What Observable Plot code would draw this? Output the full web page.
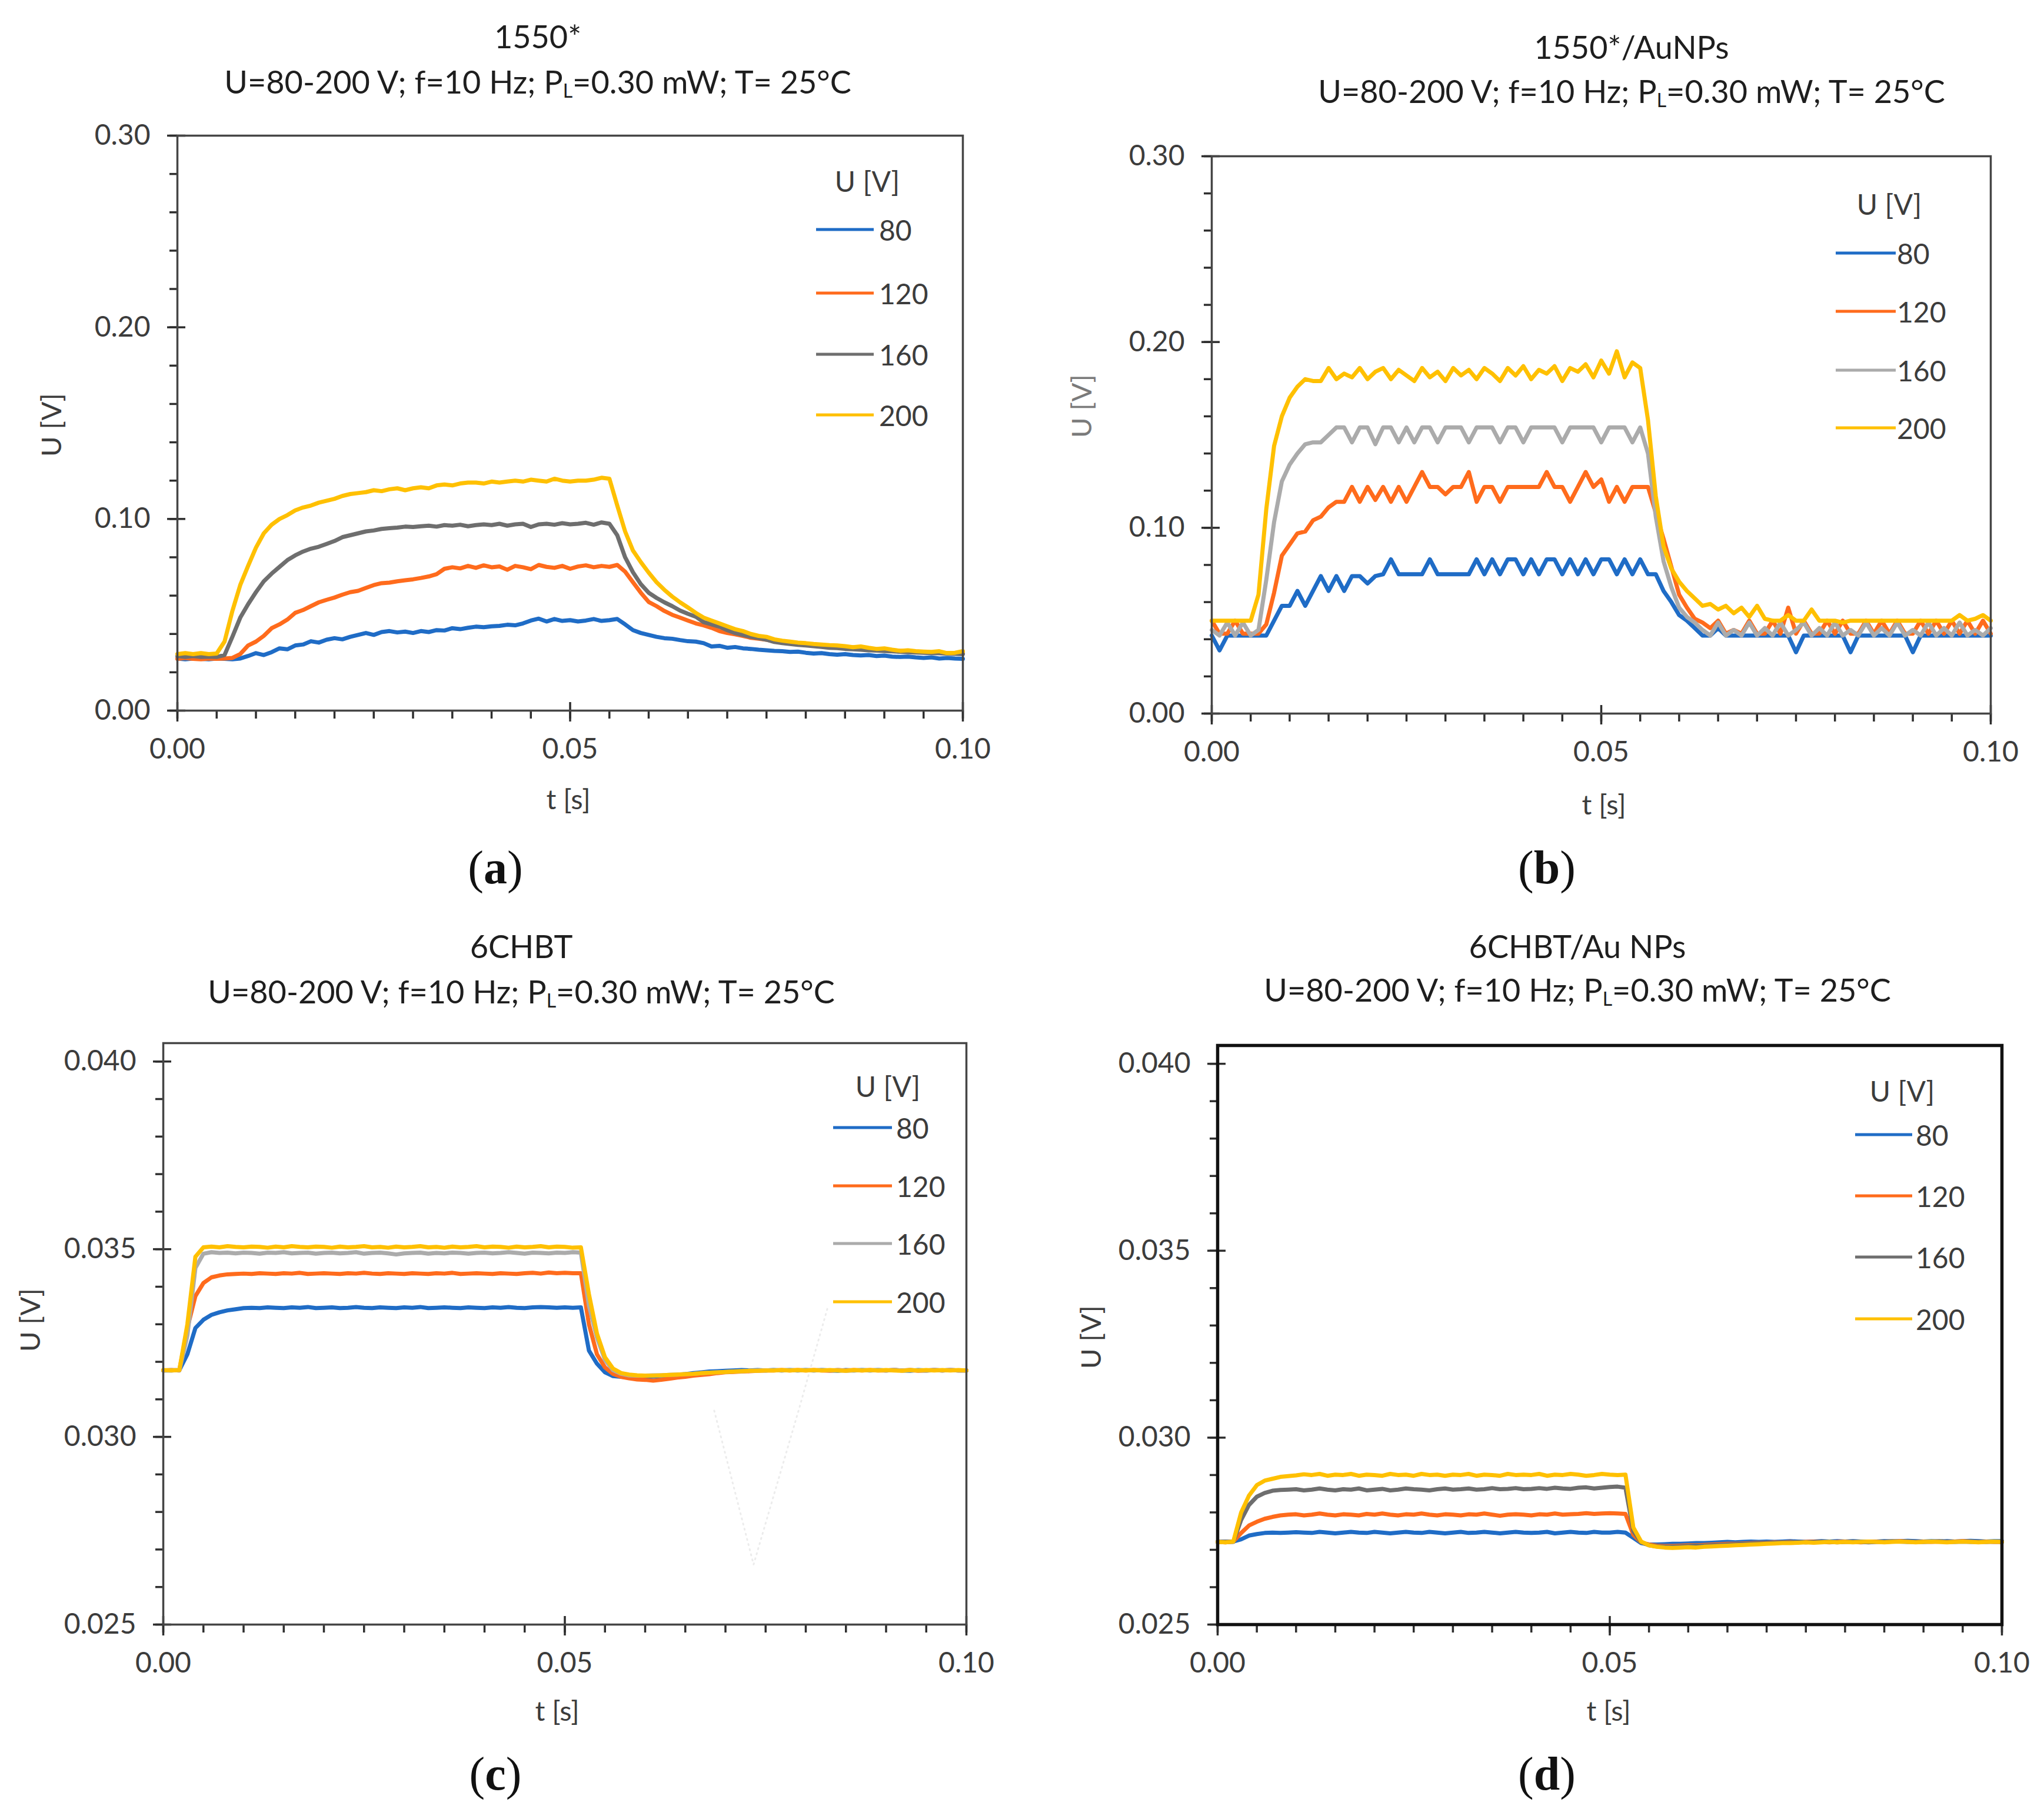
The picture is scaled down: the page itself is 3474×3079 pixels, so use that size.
<!DOCTYPE html>
<html><head><meta charset="utf-8">
<script src="https://cdn.jsdelivr.net/npm/d3@7"></script>
<script src="https://cdn.jsdelivr.net/npm/@observablehq/plot@0.6"></script>
<style>
html,body{margin:0;padding:0;background:#fff;}
#page{position:relative;width:3474px;height:3079px;background:#fff;overflow:hidden;}
#page svg{position:absolute;overflow:visible;max-width:none;}
</style></head><body><div id="page"></div>
<script>
// ---------- DATA ----------
const T = [
0.000,0.001,0.002,0.003,0.004,0.005,0.006,0.007,0.008,0.009,
0.010,0.011,0.012,0.013,0.014,0.015,0.016,0.017,0.018,0.019,
0.020,0.021,0.022,0.023,0.024,0.025,0.026,0.027,0.028,0.029,
0.030,0.031,0.032,0.033,0.034,0.035,0.036,0.037,0.038,0.039,
0.040,0.041,0.042,0.043,0.044,0.045,0.046,0.047,0.048,0.049,
0.050,0.051,0.052,0.053,0.054,0.055,0.056,0.057,0.058,0.059,
0.060,0.061,0.062,0.063,0.064,0.065,0.066,0.067,0.068,0.069,
0.070,0.071,0.072,0.073,0.074,0.075,0.076,0.077,0.078,0.079,
0.080,0.081,0.082,0.083,0.084,0.085,0.086,0.087,0.088,0.089,
0.090,0.091,0.092,0.093,0.094,0.095,0.096,0.097,0.098,0.099,
0.100];
const VOLTS = ["80","120","160","200"];
const X_MAJOR = [0, 0.05, 0.1];
const X_MINOR = [0,0.005,0.01,0.015,0.02,0.025,0.03,0.035,0.04,0.045,0.05,0.055,0.06,0.065,0.07,0.075,0.08,0.085,0.09,0.095,0.1];
const Y_MAJOR_AB = [0, 0.1, 0.2, 0.3];
const Y_MINOR_AB = [0,0.02,0.04,0.06,0.08,0.1,0.12,0.14,0.16,0.18,0.2,0.22,0.24,0.26,0.28,0.3];
const Y_MAJOR_CD = [0.025, 0.030, 0.035, 0.040];
const Y_MINOR_CD = [0.025,0.026,0.027,0.028,0.029,0.030,0.031,0.032,0.033,0.034,0.035,0.036,0.037,0.038,0.039,0.040];

// (a) 1550*
const a80 = [
0.0272,0.0268,0.0272,0.0270,0.0268,0.0272,0.0270,0.0268,0.0272,0.0285,
0.0300,0.0290,0.0305,0.0325,0.0320,0.0340,0.0345,0.0362,0.0355,0.0370,
0.0378,0.0372,0.0385,0.0395,0.0405,0.0395,0.0410,0.0415,0.0408,0.0412,
0.0405,0.0415,0.0410,0.0420,0.0418,0.0430,0.0425,0.0432,0.0438,0.0435,
0.0440,0.0442,0.0448,0.0445,0.0455,0.0470,0.0480,0.0465,0.0478,0.0468,
0.0472,0.0465,0.0470,0.0478,0.0468,0.0472,0.0478,0.0450,0.0420,0.0405,
0.0395,0.0385,0.0378,0.0375,0.0368,0.0362,0.0360,0.0352,0.0335,0.0338,
0.0328,0.0332,0.0325,0.0322,0.0318,0.0315,0.0312,0.0310,0.0306,0.0308,
0.0302,0.0298,0.0300,0.0295,0.0292,0.0295,0.0290,0.0288,0.0290,0.0285,
0.0287,0.0282,0.0280,0.0282,0.0278,0.0275,0.0278,0.0272,0.0275,0.0272,
0.0270];
const a120 = [
0.0270,0.0275,0.0270,0.0268,0.0272,0.0270,0.0272,0.0275,0.0295,0.0340,
0.0360,0.0390,0.0430,0.0450,0.0475,0.0510,0.0525,0.0545,0.0565,0.0578,
0.0590,0.0605,0.0618,0.0625,0.0640,0.0655,0.0665,0.0668,0.0675,0.0680,
0.0685,0.0692,0.0700,0.0712,0.0740,0.0748,0.0742,0.0755,0.0745,0.0758,
0.0748,0.0752,0.0735,0.0755,0.0748,0.0738,0.0760,0.0750,0.0745,0.0755,
0.0740,0.0752,0.0758,0.0748,0.0755,0.0750,0.0760,0.0725,0.0670,0.0615,
0.0567,0.0545,0.0520,0.0500,0.0485,0.0470,0.0455,0.0445,0.0432,0.0415,
0.0405,0.0398,0.0390,0.0380,0.0375,0.0370,0.0362,0.0358,0.0355,0.0350,
0.0348,0.0345,0.0342,0.0340,0.0336,0.0333,0.0330,0.0327,0.0322,0.0320,
0.0316,0.0314,0.0312,0.0310,0.0308,0.0306,0.0303,0.0302,0.0300,0.0300,
0.0298];
const a160 = [
0.0285,0.0280,0.0285,0.0280,0.0282,0.0280,0.0290,0.0385,0.0485,0.0555,
0.0618,0.0675,0.0715,0.0750,0.0785,0.0810,0.0830,0.0845,0.0855,0.0870,
0.0885,0.0905,0.0915,0.0925,0.0935,0.0940,0.0948,0.0952,0.0955,0.0960,
0.0958,0.0962,0.0965,0.0960,0.0968,0.0965,0.0970,0.0962,0.0968,0.0972,
0.0968,0.0975,0.0965,0.0972,0.0975,0.0958,0.0972,0.0975,0.0970,0.0978,
0.0972,0.0975,0.0980,0.0970,0.0982,0.0975,0.0915,0.0800,0.0722,0.0660,
0.0615,0.0588,0.0565,0.0545,0.0522,0.0505,0.0490,0.0462,0.0450,0.0438,
0.0420,0.0405,0.0395,0.0385,0.0378,0.0370,0.0358,0.0352,0.0348,0.0343,
0.0340,0.0336,0.0332,0.0328,0.0326,0.0322,0.0320,0.0318,0.0315,0.0313,
0.0311,0.0309,0.0307,0.0305,0.0303,0.0302,0.0300,0.0299,0.0297,0.0296,
0.0295];
const a200 = [
0.0295,0.0300,0.0295,0.0300,0.0295,0.0298,0.0360,0.0520,0.0655,0.0755,
0.0850,0.0925,0.0970,0.1000,0.1020,0.1045,0.1060,0.1070,0.1085,0.1095,
0.1105,0.1120,0.1130,0.1135,0.1140,0.1150,0.1145,0.1155,0.1160,0.1150,
0.1160,0.1165,0.1160,0.1175,0.1180,0.1175,0.1185,0.1190,0.1190,0.1185,
0.1195,0.1190,0.1195,0.1200,0.1195,0.1205,0.1200,0.1195,0.1210,0.1200,
0.1195,0.1200,0.1200,0.1205,0.1215,0.1210,0.1070,0.0935,0.0835,0.0775,
0.0720,0.0670,0.0630,0.0595,0.0565,0.0538,0.0510,0.0485,0.0470,0.0455,
0.0440,0.0425,0.0415,0.0400,0.0390,0.0385,0.0372,0.0365,0.0360,0.0355,
0.0352,0.0348,0.0345,0.0342,0.0340,0.0336,0.0331,0.0335,0.0328,0.0322,
0.0325,0.0318,0.0312,0.0315,0.0310,0.0308,0.0306,0.0310,0.0300,0.0302,
0.0310];

// (b) 1550*/AuNPs
const b80 = [
0.042,0.034,0.042,0.042,0.042,0.042,0.042,0.042,0.050,0.058,
0.058,0.066,0.058,0.066,0.074,0.066,0.074,0.066,0.074,0.074,
0.070,0.074,0.075,0.083,0.075,0.075,0.075,0.075,0.083,0.075,
0.075,0.075,0.075,0.075,0.083,0.075,0.083,0.075,0.083,0.083,
0.075,0.083,0.075,0.083,0.083,0.075,0.083,0.075,0.083,0.075,
0.083,0.083,0.075,0.083,0.075,0.083,0.075,0.075,0.066,0.060,
0.053,0.050,0.046,0.042,0.042,0.046,0.042,0.042,0.042,0.042,
0.042,0.042,0.042,0.042,0.042,0.033,0.042,0.042,0.042,0.042,
0.042,0.042,0.033,0.042,0.042,0.042,0.042,0.042,0.042,0.042,
0.033,0.042,0.042,0.042,0.042,0.042,0.042,0.042,0.042,0.042,
0.042];
const b120 = [
0.050,0.043,0.043,0.050,0.043,0.043,0.043,0.048,0.065,0.085,
0.091,0.097,0.098,0.104,0.106,0.111,0.114,0.114,0.122,0.114,
0.122,0.115,0.122,0.114,0.122,0.114,0.122,0.130,0.122,0.122,
0.118,0.122,0.122,0.130,0.114,0.122,0.122,0.114,0.122,0.122,
0.122,0.122,0.122,0.130,0.122,0.122,0.114,0.122,0.130,0.122,
0.126,0.114,0.122,0.114,0.122,0.122,0.122,0.108,0.094,0.079,
0.064,0.057,0.051,0.049,0.046,0.050,0.043,0.045,0.043,0.050,
0.043,0.043,0.050,0.043,0.057,0.043,0.050,0.043,0.043,0.050,
0.043,0.050,0.043,0.043,0.050,0.043,0.050,0.043,0.050,0.043,
0.043,0.050,0.043,0.050,0.043,0.050,0.043,0.050,0.043,0.050,
0.043];
const b160 = [
0.045,0.042,0.049,0.042,0.049,0.042,0.045,0.072,0.103,0.125,
0.134,0.140,0.145,0.146,0.146,0.150,0.154,0.154,0.146,0.154,
0.154,0.145,0.154,0.154,0.146,0.154,0.146,0.154,0.154,0.146,
0.154,0.154,0.154,0.146,0.154,0.154,0.154,0.146,0.154,0.154,
0.146,0.154,0.154,0.154,0.154,0.146,0.154,0.154,0.154,0.154,
0.146,0.154,0.154,0.154,0.146,0.154,0.140,0.106,0.082,0.068,
0.057,0.052,0.049,0.045,0.042,0.049,0.042,0.045,0.042,0.049,
0.042,0.046,0.042,0.049,0.042,0.045,0.049,0.042,0.046,0.042,
0.049,0.042,0.045,0.042,0.049,0.042,0.046,0.042,0.049,0.042,
0.045,0.042,0.049,0.042,0.046,0.042,0.049,0.042,0.045,0.042,
0.046];
const b200 = [
0.050,0.050,0.050,0.050,0.050,0.050,0.064,0.110,0.144,0.160,
0.170,0.176,0.180,0.179,0.179,0.186,0.180,0.183,0.181,0.186,
0.180,0.184,0.186,0.180,0.185,0.182,0.179,0.186,0.181,0.184,
0.179,0.186,0.182,0.185,0.180,0.186,0.183,0.179,0.186,0.182,
0.187,0.180,0.185,0.183,0.187,0.179,0.186,0.184,0.188,0.181,
0.190,0.183,0.195,0.181,0.189,0.186,0.158,0.117,0.090,0.078,
0.071,0.066,0.062,0.058,0.059,0.056,0.058,0.054,0.057,0.052,
0.058,0.051,0.050,0.050,0.053,0.050,0.050,0.056,0.050,0.050,
0.050,0.049,0.050,0.050,0.050,0.050,0.050,0.050,0.050,0.050,
0.050,0.050,0.050,0.050,0.050,0.050,0.053,0.050,0.051,0.053,
0.050];

// (c) 6CHBT
const c80 = [
0.03177,0.03177,0.03178,0.03220,0.03290,0.03312,0.03325,0.03332,0.03337,0.03340,
0.03343,0.03344,0.03343,0.03345,0.03344,0.03343,0.03345,0.03344,0.03346,0.03343,
0.03344,0.03345,0.03343,0.03344,0.03346,0.03344,0.03343,0.03345,0.03344,0.03343,
0.03345,0.03344,0.03346,0.03343,0.03344,0.03345,0.03344,0.03343,0.03345,0.03344,
0.03343,0.03345,0.03344,0.03346,0.03344,0.03343,0.03345,0.03346,0.03345,0.03344,
0.03345,0.03344,0.03345,0.03230,0.03195,0.03172,0.03162,0.03160,0.03159,0.03160,
0.03160,0.03161,0.03162,0.03163,0.03165,0.03167,0.03170,0.03172,0.03174,0.03175,
0.03176,0.03177,0.03178,0.03177,0.03178,0.03177,0.03178,0.03177,0.03178,0.03177,
0.03178,0.03177,0.03178,0.03177,0.03176,0.03178,0.03177,0.03178,0.03177,0.03178,
0.03177,0.03178,0.03177,0.03176,0.03178,0.03177,0.03178,0.03177,0.03178,0.03177,
0.03177];
const c120 = [
0.03177,0.03178,0.03177,0.03290,0.03375,0.03410,0.03425,0.03430,0.03433,0.03434,
0.03435,0.03434,0.03436,0.03435,0.03434,0.03436,0.03435,0.03437,0.03434,0.03435,
0.03436,0.03435,0.03434,0.03436,0.03435,0.03437,0.03435,0.03434,0.03436,0.03435,
0.03434,0.03436,0.03435,0.03434,0.03436,0.03435,0.03437,0.03434,0.03435,0.03436,
0.03435,0.03434,0.03436,0.03435,0.03434,0.03436,0.03437,0.03435,0.03438,0.03436,
0.03437,0.03436,0.03436,0.03300,0.03220,0.03185,0.03168,0.03160,0.03156,0.03153,
0.03152,0.03150,0.03152,0.03155,0.03158,0.03160,0.03163,0.03165,0.03167,0.03170,
0.03172,0.03173,0.03174,0.03175,0.03176,0.03177,0.03177,0.03178,0.03177,0.03178,
0.03177,0.03178,0.03177,0.03176,0.03178,0.03177,0.03178,0.03177,0.03178,0.03177,
0.03177,0.03178,0.03177,0.03178,0.03176,0.03177,0.03178,0.03177,0.03178,0.03177,
0.03177];
const c160 = [
0.03177,0.03178,0.03177,0.03270,0.03450,0.03488,0.03492,0.03490,0.03491,0.03489,
0.03491,0.03490,0.03488,0.03491,0.03490,0.03492,0.03489,0.03490,0.03491,0.03488,
0.03490,0.03491,0.03489,0.03490,0.03492,0.03488,0.03490,0.03491,0.03489,0.03486,
0.03489,0.03490,0.03491,0.03488,0.03490,0.03489,0.03491,0.03490,0.03488,0.03490,
0.03491,0.03489,0.03490,0.03492,0.03490,0.03488,0.03491,0.03490,0.03489,0.03491,
0.03490,0.03492,0.03491,0.03350,0.03265,0.03205,0.03178,0.03168,0.03164,0.03163,
0.03163,0.03164,0.03164,0.03165,0.03166,0.03167,0.03168,0.03170,0.03171,0.03172,
0.03173,0.03174,0.03175,0.03176,0.03177,0.03177,0.03178,0.03177,0.03178,0.03177,
0.03178,0.03177,0.03178,0.03177,0.03178,0.03176,0.03177,0.03178,0.03177,0.03178,
0.03177,0.03178,0.03177,0.03178,0.03177,0.03176,0.03178,0.03177,0.03178,0.03177,
0.03177];
const c200 = [
0.03178,0.03177,0.03178,0.03300,0.03480,0.03505,0.03507,0.03505,0.03508,0.03506,
0.03505,0.03507,0.03506,0.03504,0.03507,0.03505,0.03508,0.03506,0.03505,0.03507,
0.03506,0.03504,0.03507,0.03505,0.03506,0.03508,0.03505,0.03506,0.03504,0.03507,
0.03505,0.03506,0.03508,0.03505,0.03506,0.03504,0.03507,0.03505,0.03506,0.03508,
0.03505,0.03507,0.03506,0.03504,0.03507,0.03505,0.03506,0.03508,0.03505,0.03507,
0.03506,0.03504,0.03505,0.03380,0.03275,0.03212,0.03182,0.03170,0.03166,0.03164,
0.03163,0.03163,0.03164,0.03165,0.03166,0.03167,0.03168,0.03170,0.03171,0.03172,
0.03173,0.03174,0.03175,0.03176,0.03176,0.03177,0.03177,0.03178,0.03177,0.03178,
0.03177,0.03178,0.03177,0.03178,0.03177,0.03176,0.03178,0.03177,0.03178,0.03177,
0.03178,0.03177,0.03176,0.03178,0.03177,0.03178,0.03177,0.03178,0.03177,0.03178,
0.03177];
// faint dotted artefact visible in (c)
const cGhostT = [0.0686, 0.0735, 0.0791, 0.0828];
const cGhostV = [0.0307, 0.0266, 0.0307, 0.0335];

// (d) 6CHBT/Au NPs
const d80 = [
0.02721,0.02721,0.02722,0.02728,0.02738,0.02742,0.02745,0.02746,0.02745,0.02746,
0.02747,0.02746,0.02745,0.02748,0.02746,0.02744,0.02746,0.02748,0.02746,0.02745,
0.02748,0.02746,0.02744,0.02746,0.02748,0.02746,0.02745,0.02748,0.02746,0.02744,
0.02746,0.02748,0.02745,0.02746,0.02748,0.02746,0.02744,0.02746,0.02748,0.02746,
0.02745,0.02746,0.02748,0.02744,0.02746,0.02748,0.02746,0.02745,0.02748,0.02746,
0.02746,0.02748,0.02746,0.02732,0.02718,0.02714,0.02714,0.02715,0.02716,0.02716,
0.02717,0.02718,0.02718,0.02719,0.02720,0.02721,0.02720,0.02721,0.02722,0.02721,
0.02722,0.02721,0.02722,0.02723,0.02722,0.02721,0.02722,0.02723,0.02722,0.02723,
0.02722,0.02723,0.02722,0.02721,0.02722,0.02723,0.02722,0.02723,0.02724,0.02723,
0.02722,0.02723,0.02722,0.02723,0.02722,0.02723,0.02724,0.02723,0.02722,0.02723,
0.02723];
const d120 = [
0.02721,0.02720,0.02722,0.02745,0.02765,0.02775,0.02783,0.02788,0.02792,0.02794,
0.02795,0.02792,0.02794,0.02797,0.02794,0.02792,0.02795,0.02794,0.02792,0.02796,
0.02794,0.02797,0.02794,0.02792,0.02795,0.02794,0.02797,0.02794,0.02792,0.02795,
0.02794,0.02792,0.02795,0.02794,0.02797,0.02794,0.02791,0.02794,0.02795,0.02794,
0.02792,0.02795,0.02794,0.02797,0.02794,0.02795,0.02796,0.02798,0.02796,0.02797,
0.02798,0.02797,0.02796,0.02740,0.02720,0.02714,0.02711,0.02710,0.02710,0.02711,
0.02712,0.02712,0.02713,0.02714,0.02715,0.02716,0.02716,0.02717,0.02718,0.02719,
0.02719,0.02720,0.02720,0.02721,0.02720,0.02721,0.02722,0.02721,0.02720,0.02721,
0.02722,0.02721,0.02720,0.02721,0.02722,0.02721,0.02722,0.02723,0.02722,0.02721,
0.02722,0.02721,0.02722,0.02721,0.02722,0.02723,0.02722,0.02721,0.02722,0.02721,
0.02721];
const d160 = [
0.02721,0.02722,0.02721,0.02780,0.02820,0.02842,0.02852,0.02858,0.02860,0.02861,
0.02862,0.02859,0.02861,0.02864,0.02861,0.02859,0.02862,0.02861,0.02864,0.02859,
0.02861,0.02863,0.02859,0.02861,0.02864,0.02862,0.02861,0.02859,0.02862,0.02864,
0.02861,0.02862,0.02864,0.02861,0.02862,0.02865,0.02862,0.02863,0.02865,0.02862,
0.02863,0.02865,0.02863,0.02866,0.02864,0.02863,0.02866,0.02867,0.02864,0.02866,
0.02868,0.02869,0.02866,0.02750,0.02720,0.02712,0.02709,0.02708,0.02708,0.02709,
0.02710,0.02711,0.02711,0.02712,0.02713,0.02714,0.02715,0.02716,0.02717,0.02718,
0.02718,0.02719,0.02720,0.02720,0.02721,0.02720,0.02721,0.02722,0.02721,0.02720,
0.02721,0.02722,0.02721,0.02720,0.02721,0.02722,0.02723,0.02722,0.02721,0.02722,
0.02721,0.02722,0.02723,0.02722,0.02721,0.02722,0.02721,0.02722,0.02721,0.02722,
0.02721];
const d200 = [
0.02721,0.02720,0.02722,0.02800,0.02845,0.02873,0.02885,0.02890,0.02895,0.02897,
0.02899,0.02902,0.02900,0.02903,0.02898,0.02901,0.02900,0.02903,0.02898,0.02901,
0.02900,0.02898,0.02903,0.02900,0.02901,0.02898,0.02903,0.02900,0.02901,0.02898,
0.02901,0.02900,0.02903,0.02898,0.02901,0.02900,0.02898,0.02903,0.02900,0.02901,
0.02900,0.02903,0.02898,0.02901,0.02900,0.02903,0.02901,0.02898,0.02900,0.02903,
0.02901,0.02900,0.02901,0.02760,0.02722,0.02712,0.02708,0.02706,0.02705,0.02706,
0.02707,0.02706,0.02708,0.02709,0.02710,0.02711,0.02712,0.02713,0.02714,0.02715,
0.02716,0.02717,0.02718,0.02718,0.02719,0.02720,0.02719,0.02720,0.02721,0.02720,
0.02721,0.02720,0.02721,0.02722,0.02721,0.02720,0.02721,0.02722,0.02721,0.02720,
0.02721,0.02722,0.02721,0.02720,0.02721,0.02722,0.02721,0.02720,0.02721,0.02722,
0.02721];

// ---------- STYLE / LAYOUT ----------
const BLUE = "#1f6cc6", ORANGE = "#ff6b1c", GRAY_D = "#6e6e6e", GRAY_L = "#ababab", YELLOW = "#ffc000";
const TICK = "#2e2e2e", TXT = "#3c3c3c";
const FONT = "Lato, 'Open Sans', sans-serif";
const SUB = "U=80-200 V; f=10 Hz; P|L|=0.30 mW; T= 25°C";

const panels = [
  {key:"a", left:301, top:230, w:1335, h:977, yDomain:[0,0.3], yMajor:Y_MAJOR_AB, yMinor:Y_MINOR_AB, fmt:".2f",
   series:[a80,a120,a160,a200], colors:[BLUE,ORANGE,GRAY_D,YELLOW], frame:"#454545", frameW:3.5,
   title:"1550*", titleXY:[914,61], subXY:[914,138], uXY:[86,722], uColor:TXT, tXY:[966,1357], capXY:[842,1474],
   leg:{title:[1474,307], x1:1387, x2:1485, lx:1494, ys:[390,498,602,705]}},
  {key:"b", left:2059, top:265, w:1324, h:947, yDomain:[0,0.3], yMajor:Y_MAJOR_AB, yMinor:Y_MINOR_AB, fmt:".2f",
   series:[b80,b120,b160,b200], colors:[BLUE,ORANGE,GRAY_L,YELLOW], frame:"#454545", frameW:3.5,
   title:"1550*/AuNPs", titleXY:[2773,79], subXY:[2773,154], uXY:[1837,690], uColor:"#7a7a7a", tXY:[2726,1366], capXY:[2629,1474],
   leg:{title:[3211,346], x1:3120, x2:3222, lx:3224, ys:[430,529,629,727]}},
  {key:"c", left:277, top:1772, w:1365, h:988, yDomain:[0.025,0.04049], yMajor:Y_MAJOR_CD, yMinor:Y_MINOR_CD, fmt:".3f",
   series:[c80,c120,c160,c200], colors:[BLUE,ORANGE,GRAY_L,YELLOW], frame:"#454545", frameW:3.5,
   title:"6CHBT", titleXY:[886,1607], subXY:[886,1684], uXY:[50,2243], uColor:TXT, tXY:[947,2906], capXY:[842,3014],
   leg:{title:[1509,1845], x1:1416, x2:1516, lx:1523, ys:[1916,2015,2113,2212]}, ghost:true},
  {key:"d", left:2069, top:1776, w:1333, h:984, yDomain:[0.025,0.04049], yMajor:Y_MAJOR_CD, yMinor:Y_MINOR_CD, fmt:".3f",
   series:[d80,d120,d160,d200], colors:[BLUE,ORANGE,GRAY_D,YELLOW], frame:"#111111", frameW:5.5,
   title:"6CHBT/Au NPs", titleXY:[2681,1607], subXY:[2681,1681], uXY:[1853,2272], uColor:TXT, tXY:[2734,2906], capXY:[2629,3014],
   leg:{title:[3233,1853], x1:3153, x2:3250, lx:3256, ys:[1928,2032,2136,2241]}}
];

const page = document.getElementById("page");
const ML = 240, MR = 30, MT = 30, MB = 130;

for (const p of panels) {
  const marks = [
    Plot.axisX({ticks: X_MINOR, tickSize: 14, text: null, label: null, stroke: TICK, strokeWidth: 3.5}),
    Plot.axisX({ticks: X_MAJOR, tickSize: 33, dy: -14, text: null, label: null, stroke: TICK, strokeWidth: 3.5}),
    Plot.axisX({ticks: X_MAJOR, tickSize: 0, tickPadding: 47, tickFormat: d3.format(".2f"), label: null, fill: TXT, fontSize: 48}),
    Plot.axisY({ticks: p.yMinor, tickSize: 13, text: null, label: null, stroke: TICK, strokeWidth: 3.5}),
    Plot.axisY({ticks: p.yMajor, tickSize: 31, dx: 14, text: null, label: null, stroke: TICK, strokeWidth: 3.5}),
    Plot.axisY({ticks: p.yMajor, tickSize: 0, tickPadding: 46, tickFormat: d3.format(p.fmt), label: null, fill: TXT, fontSize: 48})
  ];
  if (p.ghost) marks.push(Plot.line(cGhostT, {x: cGhostT, y: cGhostV, stroke: "#ececec", strokeWidth: 3, strokeDasharray: "2,7"}));
  p.series.forEach((vals, i) => {
    marks.push(Plot.line(T, {x: T, y: vals, stroke: p.colors[i], strokeWidth: 7, strokeLinejoin: "round", strokeLinecap: "round"}));
  });
  marks.push(Plot.frame({stroke: p.frame, strokeWidth: p.frameW}));
  const svg = Plot.plot({
    width: ML + p.w + MR, height: MT + p.h + MB,
    marginLeft: ML, marginRight: MR, marginTop: MT, marginBottom: MB,
    x: {domain: [0, 0.1]}, y: {domain: p.yDomain},
    style: {fontFamily: FONT, fontSize: "48px", color: TXT, background: "transparent", overflow: "visible"},
    marks
  });
  svg.style.left = (p.left - ML) + "px";
  svg.style.top = (p.top - MT) + "px";
  page.appendChild(svg);
}

// overlay for titles, legends, axis titles, captions
const ov = d3.select(page).append("svg")
  .attr("width", 3474).attr("height", 3079)
  .style("left", "0px").style("top", "0px")
  .attr("font-family", FONT);

function subtitle(g, x, y, str) {
  const parts = str.split("|");
  const t = g.append("text").attr("x", x).attr("y", y).attr("text-anchor", "middle")
    .attr("dominant-baseline", "central").attr("font-size", 54).attr("fill", "#1e1e1e");
  t.append("tspan").text(parts[0]);
  t.append("tspan").attr("font-size", 32).attr("dy", 15).text(parts[1]);
  t.append("tspan").attr("dy", -15).text(parts[2]);
}

for (const p of panels) {
  ov.append("text").attr("x", p.titleXY[0]).attr("y", p.titleXY[1]).attr("text-anchor", "middle")
    .attr("dominant-baseline", "central").attr("font-size", 54).attr("fill", "#1e1e1e").text(p.title);
  subtitle(ov, p.subXY[0], p.subXY[1], SUB);
  ov.append("text").attr("transform", `translate(${p.uXY[0]},${p.uXY[1]}) rotate(-90)`).attr("text-anchor", "middle")
    .attr("dominant-baseline", "central").attr("font-size", 47).attr("fill", p.uColor).text("U [V]");
  ov.append("text").attr("x", p.tXY[0]).attr("y", p.tXY[1]).attr("text-anchor", "middle")
    .attr("dominant-baseline", "central").attr("font-size", 47).attr("fill", TXT).text("t [s]");
  const cap = ov.append("text").attr("x", p.capXY[0]).attr("y", p.capXY[1]).attr("text-anchor", "middle")
    .attr("dominant-baseline", "central").attr("font-size", 80).attr("fill", "#111")
    .attr("font-family", "'Liberation Serif', 'DejaVu Serif', serif");
  cap.append("tspan").text("(");
  cap.append("tspan").attr("font-weight", "bold").text(p.key);
  cap.append("tspan").text(")");
  // legend
  const L = p.leg;
  ov.append("text").attr("x", L.title[0]).attr("y", L.title[1]).attr("text-anchor", "middle")
    .attr("dominant-baseline", "central").attr("font-size", 48).attr("fill", TXT).text("U [V]");
  VOLTS.forEach((v, i) => {
    ov.append("line").attr("x1", L.x1).attr("x2", L.x2).attr("y1", L.ys[i]).attr("y2", L.ys[i])
      .attr("stroke", p.colors[i]).attr("stroke-width", 5);
    ov.append("text").attr("x", L.lx).attr("y", L.ys[i]).attr("dominant-baseline", "central")
      .attr("font-size", 48).attr("fill", TXT).text(v);
  });
}
</script></body></html>
